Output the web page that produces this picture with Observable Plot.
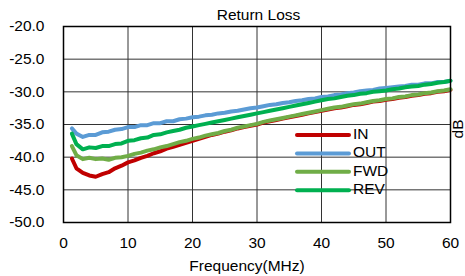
<!DOCTYPE html>
<html>
<head>
<meta charset="utf-8">
<script src="https://cdn.jsdelivr.net/npm/d3@7"></script>
<script src="https://cdn.jsdelivr.net/npm/@observablehq/plot@0.6"></script>
<style>
  html, body { margin: 0; padding: 0; background: #fff; }
  #chart svg { display: block; }
</style>
</head>
<body>
<div id="chart"></div>
<script>
const title = "Return Loss";
const xLabel = "Frequency(MHz)";
const yLabel = "dB";
const seriesNames = ["IN", "OUT", "FWD", "REV"];
const seriesColors = ["#C00000", "#5B9BD5", "#70AD47", "#00B050"];
const xTicks = [0, 10, 20, 30, 40, 50, 60];
const yTicks = [-50, -45, -40, -35, -30, -25, -20];

const freq = [1.3, 2, 3, 4, 5, 6, 7, 8, 9, 10,
  11, 12, 13, 14, 15, 16, 17, 18, 19, 20,
  21, 22, 23, 24, 25, 26, 27, 28, 29, 30,
  31, 32, 33, 34, 35, 36, 37, 38, 39, 40,
  41, 42, 43, 44, 45, 46, 47, 48, 49, 50,
  51, 52, 53, 54, 55, 56, 57, 58, 59, 60];

const inVals = [-40.2, -41.7, -42.4, -42.8, -43.0, -42.6, -42.3, -41.7, -41.3, -40.8,
  -40.5, -40.1, -39.8, -39.4, -39.1, -38.7, -38.4, -38.1, -37.8, -37.5,
  -37.2, -36.9, -36.6, -36.4, -36.1, -35.9, -35.6, -35.4, -35.2, -35.0,
  -34.7, -34.5, -34.3, -34.1, -33.9, -33.7, -33.5, -33.3, -33.1, -32.9,
  -32.7, -32.5, -32.4, -32.2, -32.0, -31.9, -31.7, -31.5, -31.4, -31.2,
  -31.1, -30.9, -30.8, -30.6, -30.5, -30.3, -30.2, -30.0, -29.9, -29.7];

const outVals = [-35.6, -36.4, -36.9, -36.6, -36.6, -36.2, -36.1, -35.8, -35.7, -35.4,
  -35.4, -35.1, -35.1, -34.8, -34.8, -34.5, -34.5, -34.2, -34.1, -33.9,
  -33.8, -33.6, -33.5, -33.3, -33.2, -33.0, -32.9, -32.7, -32.5, -32.4,
  -32.2, -32.0, -31.9, -31.7, -31.6, -31.4, -31.3, -31.1, -31.0, -30.8,
  -30.7, -30.5, -30.4, -30.2, -30.1, -29.9, -29.8, -29.7, -29.5, -29.4,
  -29.3, -29.2, -29.1, -28.9, -28.9, -28.7, -28.7, -28.5, -28.5, -28.3];

const fwdVals = [-38.3, -39.7, -40.3, -40.1, -40.3, -40.2, -40.4, -40.1, -40.0, -39.8,
  -39.5, -39.3, -39.0, -38.8, -38.5, -38.3, -38.0, -37.7, -37.5, -37.2,
  -37.0, -36.7, -36.5, -36.3, -36.0, -35.8, -35.5, -35.3, -35.1, -34.9,
  -34.6, -34.4, -34.2, -34.0, -33.8, -33.6, -33.4, -33.2, -33.0, -32.8,
  -32.6, -32.4, -32.3, -32.1, -31.9, -31.8, -31.6, -31.4, -31.3, -31.1,
  -31.0, -30.8, -30.7, -30.5, -30.4, -30.2, -30.1, -29.9, -29.8, -29.6];

const revVals = [-36.4, -38.0, -38.8, -38.5, -38.6, -38.3, -38.3, -38.0, -37.9, -37.5,
  -37.4, -37.1, -37.0, -36.6, -36.5, -36.2, -36.0, -35.8, -35.5, -35.3,
  -35.1, -34.9, -34.7, -34.5, -34.3, -34.1, -33.9, -33.7, -33.5, -33.3,
  -33.1, -32.9, -32.7, -32.5, -32.3, -32.1, -31.9, -31.7, -31.5, -31.3,
  -31.1, -31.0, -30.8, -30.6, -30.5, -30.3, -30.2, -30.0, -29.9, -29.8,
  -29.6, -29.5, -29.3, -29.2, -29.1, -28.9, -28.8, -28.6, -28.5, -28.3];

const allVals = [inVals, outVals, fwdVals, revVals];
const rows = [];
seriesNames.forEach((name, i) => {
  freq.forEach((f, j) => rows.push({series: name, f, v: allVals[i][j]}));
});

const W = 465, H = 276;
const mL = 63, mR = 15, mT = 26, mB = 54;
const font = "'Liberation Sans', Arial, sans-serif";

const plot = Plot.plot({
  width: W,
  height: H,
  marginLeft: mL,
  marginRight: mR,
  marginTop: mT,
  marginBottom: mB,
  style: {fontFamily: font, fontSize: "15.5px", color: "#000", background: "#fff", overflow: "visible"},
  x: {domain: [0, 60], ticks: xTicks, label: null},
  y: {domain: [-50, -20], ticks: yTicks, label: null},
  color: {domain: seriesNames, range: seriesColors},
  marks: [
    Plot.gridX(xTicks, {stroke: "#333", strokeOpacity: 1, strokeWidth: 1}),
    Plot.gridY(yTicks, {stroke: "#333", strokeOpacity: 1, strokeWidth: 1}),
    Plot.axisX(xTicks, {tickSize: 0, tickPadding: 14, tickFormat: d => String(d), fontSize: 15.5, label: null}),
    Plot.axisY(yTicks, {tickSize: 0, tickPadding: 19, tickFormat: d => d.toFixed(1), fontSize: 15.5, label: null}),
    Plot.line(rows, {x: "f", y: "v", z: "series", stroke: "series", strokeWidth: 4, strokeLinejoin: "round", strokeLinecap: "round"}),
    Plot.frame({stroke: "#000", strokeWidth: 1.5})
  ]
});

document.getElementById("chart").appendChild(plot);

// Titles and legend drawn into the same SVG
const svg = d3.select(plot);
const plotL = mL, plotR = W - mR, plotT = mT, plotB = H - mB;

svg.append("text")
  .attr("x", (plotL + plotR) / 2 + 2)
  .attr("y", 20)
  .attr("text-anchor", "middle")
  .attr("font-family", font)
  .attr("font-size", 15.5)
  .attr("fill", "#000")
  .text(title);

svg.append("text")
  .attr("x", 247)
  .attr("y", 271)
  .attr("text-anchor", "middle")
  .attr("font-family", font)
  .attr("font-size", 15.5)
  .attr("fill", "#000")
  .text(xLabel);

svg.append("text")
  .attr("transform", `translate(${plotR + 8.5},129) rotate(-90)`)
  .attr("text-anchor", "middle")
  .attr("dominant-baseline", "middle")
  .attr("font-family", font)
  .attr("font-size", 15.5)
  .attr("fill", "#000")
  .text(yLabel);

const legend = svg.append("g");
seriesNames.forEach((name, i) => {
  const y = 135 + i * 18.4;
  legend.append("line")
    .attr("x1", 297).attr("x2", 349)
    .attr("y1", y).attr("y2", y)
    .attr("stroke", seriesColors[i])
    .attr("stroke-width", 4)
    .attr("stroke-linecap", "round");
  legend.append("text")
    .attr("x", 353)
    .attr("y", y)
    .attr("text-anchor", "start")
    .attr("dominant-baseline", "middle")
    .attr("font-family", font)
    .attr("font-size", 15.5)
    .attr("fill", "#000")
    .text(name);
});
</script>
</body>
</html>
